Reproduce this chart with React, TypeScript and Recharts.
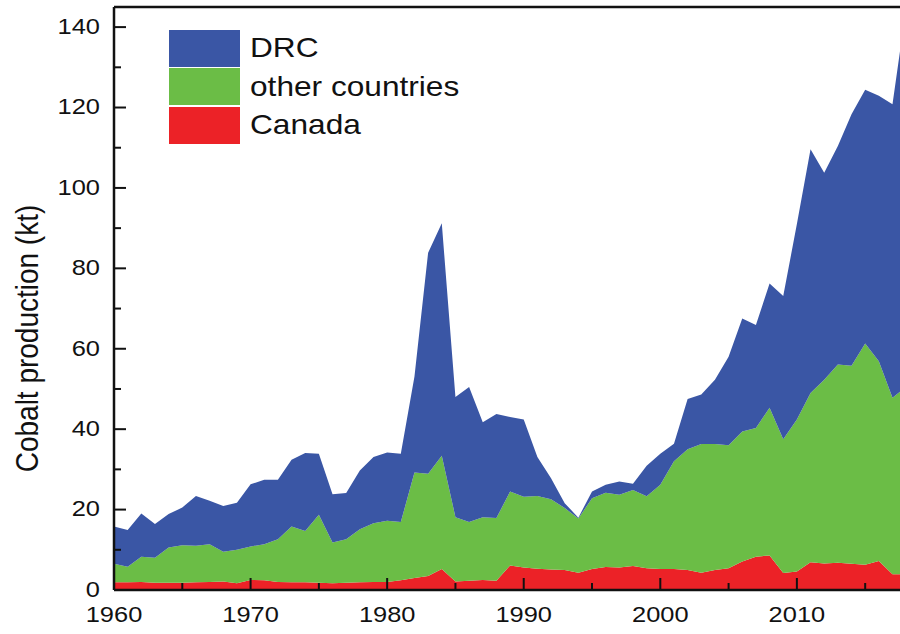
import { AreaChart, Area, XAxis, YAxis, Legend, ReferenceLine } from "recharts";

// cobalt production by source, kt
const YEARS = [
  1960, 1961, 1962, 1963, 1964, 1965, 1966, 1967, 1968, 1969,
  1970, 1971, 1972, 1973, 1974, 1975, 1976, 1977, 1978, 1979,
  1980, 1981, 1982, 1983, 1984, 1985, 1986, 1987, 1988, 1989,
  1990, 1991, 1992, 1993, 1994, 1995, 1996, 1997, 1998, 1999,
  2000, 2001, 2002, 2003, 2004, 2005, 2006, 2007, 2008, 2009,
  2010, 2011, 2012, 2013, 2014, 2015, 2016, 2017, 2018,
];
const CANADA = [
  1.9, 1.9, 2.0, 1.8, 1.8, 1.8, 1.9, 2.0, 2.1, 1.7,
  2.5, 2.4, 2.0, 1.9, 1.9, 1.8, 1.7, 1.8, 1.9, 2.0,
  2.0, 2.4, 3.0, 3.5, 5.2, 2.1, 2.3, 2.5, 2.3, 6.1,
  5.6, 5.3, 5.1, 5.0, 4.3, 5.2, 5.7, 5.6, 6.0, 5.4,
  5.2, 5.2, 5.0, 4.3, 5.0, 5.4, 7.1, 8.3, 8.6, 4.2,
  4.6, 6.9, 6.6, 6.8, 6.5, 6.3, 7.2, 3.9, 3.9,
];
const OTHER = [
  4.6, 3.9, 6.3, 6.2, 8.8, 9.3, 9.1, 9.4, 7.4, 8.3,
  8.3, 9.0, 10.6, 13.9, 12.8, 16.9, 10.1, 10.8, 13.2, 14.6,
  15.2, 14.5, 26.2, 25.4, 28.2, 16.0, 14.6, 15.6, 15.6, 18.4,
  17.6, 18.1, 17.5, 15.4, 13.5, 17.6, 18.5, 18.1, 18.9, 17.9,
  21.0, 26.8, 30.0, 32.0, 31.3, 30.6, 32.3, 32.0, 36.7, 33.3,
  37.8, 42.1, 45.7, 49.3, 49.3, 55.0, 49.7, 43.9, 46.6,
];
const DRC = [
  9.3, 9.1, 10.7, 8.4, 8.3, 9.4, 12.4, 10.8, 11.4, 11.7,
  15.5, 16.0, 14.8, 16.6, 19.4, 15.2, 12.0, 11.5, 14.6, 16.5,
  17.0, 17.0, 23.9, 55.0, 57.8, 29.9, 33.6, 23.6, 25.9, 18.5,
  19.2, 9.7, 5.2, 1.2, 0.2, 1.7, 2.0, 3.3, 1.5, 7.6,
  7.7, 4.4, 12.5, 12.3, 16.0, 22.0, 28.1, 25.6, 30.9, 35.6,
  48.6, 60.6, 51.5, 54.3, 62.5, 63.1, 66.0, 73.0, 94.3,
];

const X_TICKS = [1960, 1970, 1980, 1990, 2000, 2010];
const X_MINOR = [1965, 1975, 1985, 1995, 2005, 2015];
const Y_TICKS = [0, 20, 40, 60, 80, 100, 120, 140];
const Y_MINOR = [10, 30, 50, 70, 90, 110, 130];
const LEGEND_ORDER = ["DRC", "other countries", "Canada"];

const rows = YEARS.map((year, i) => ({
  year,
  canada: CANADA[i],
  other: OTHER[i],
  drc: DRC[i],
}));

const FONT = '"Liberation Sans", Arial, sans-serif';
const SX = 1.13; // the original art is a bit wide
const INK = "#111";

function YTick({ x, y, payload }: any) {
  return (
    <text transform={`translate(${x},${y}) scale(${SX},1)`} textAnchor="end" dy="0.3em"
      fontSize={22.5} fontFamily={FONT} fill={INK}>
      {payload.value}
    </text>
  );
}

function XTick({ x, y, payload }: any) {
  return (
    <text transform={`translate(${x},${y}) scale(${SX},1)`} textAnchor="middle" dy="0.75em"
      fontSize={22.5} fontFamily={FONT} fill={INK}>
      {payload.value}
    </text>
  );
}

function yTitle(props: any) {
  const vb = props.viewBox || { x: 14, y: 7, height: 583 };
  const cx = vb.x + 13;
  const cy = vb.y + vb.height / 2 + 40;
  return (
    <text transform={`translate(${cx},${cy}) scale(${SX},1) rotate(-90)`} textAnchor="middle" dy="0.35em"
      fontSize={28} fontFamily={FONT} fill={INK}>
      Cobalt production (kt)
    </text>
  );
}

function LegendBox({ payload }: any) {
  const items = [...(payload || [])].sort(
    (a: any, b: any) => LEGEND_ORDER.indexOf(a.value) - LEGEND_ORDER.indexOf(b.value)
  );
  return (
    <div style={{ fontFamily: FONT }}>
      {items.map((it: any) => (
        <div key={it.value} style={{ display: "flex", alignItems: "center", height: 38.5 }}>
          <div style={{ width: 71, height: 37, background: it.color }} />
          <span style={{
            display: "inline-block", marginLeft: 10, fontSize: 28, color: INK, whiteSpace: "nowrap",
            transform: `scaleX(${SX})`, transformOrigin: "left center",
          }}>
            {it.value}
          </span>
        </div>
      ))}
    </div>
  );
}

const X_DOMAIN = [1960, 2017.55];
const Y_DOMAIN = [0, 145];
const tickLine = { stroke: INK, strokeWidth: 2 };
const axisLine = { stroke: INK, strokeWidth: 2.5 };

export default function App() {
  return (
    <div style={{ position: "absolute", left: 0, top: 0, width: 900, height: 634, overflow: "hidden", background: "#fff" }}>
      <AreaChart width={900} height={634} data={rows} margin={{ top: 7, right: 0, bottom: 4, left: 14 }}>
        <XAxis xAxisId="x" type="number" dataKey="year" domain={X_DOMAIN} allowDataOverflow
          ticks={X_TICKS} interval={0} height={40} tickSize={-12} tickMargin={27}
          tick={<XTick />} tickLine={tickLine} axisLine={axisLine} />
        <XAxis xAxisId="xMinor" type="number" dataKey="year" domain={X_DOMAIN} allowDataOverflow
          mirror ticks={X_MINOR} interval={0} tickSize={7} tickFormatter={() => ""}
          tickLine={tickLine} axisLine={false} />
        <YAxis yAxisId="y" type="number" domain={Y_DOMAIN} allowDataOverflow
          ticks={Y_TICKS} interval={0} width={100} tickSize={-12} tickMargin={26}
          tick={<YTick />} tickLine={tickLine} axisLine={axisLine} label={yTitle} />
        <YAxis yAxisId="yMinor" type="number" domain={Y_DOMAIN} allowDataOverflow
          mirror ticks={Y_MINOR} interval={0} tickSize={7} tickFormatter={() => ""}
          tickLine={tickLine} axisLine={false} />
        <Area xAxisId="x" yAxisId="y" type="linear" dataKey="canada" name="Canada" stackId="1"
          fill="#ec2227" stroke="none" fillOpacity={1} isAnimationActive={false} />
        <Area xAxisId="x" yAxisId="y" type="linear" dataKey="other" name="other countries" stackId="1"
          fill="#6bbd46" stroke="none" fillOpacity={1} isAnimationActive={false} />
        <Area xAxisId="x" yAxisId="y" type="linear" dataKey="drc" name="DRC" stackId="1"
          fill="#3a56a5" stroke="none" fillOpacity={1} isAnimationActive={false} />
        <ReferenceLine xAxisId="x" yAxisId="y" y={145} stroke={INK} strokeWidth={2.5} />
        <Legend layout="vertical" align="center" verticalAlign="middle" content={<LegendBox />}
          wrapperStyle={{ left: 169, top: 29, width: "auto" }} />
      </AreaChart>
    </div>
  );
}
